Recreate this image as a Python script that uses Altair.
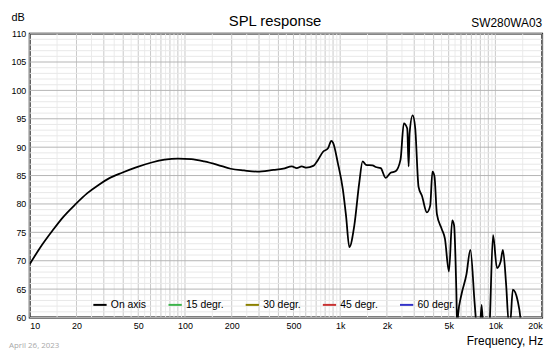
import altair as alt
import pandas as pd

# On-axis SPL response (Hz, dB)
freq = [10, 11.6, 14.1, 16.3, 19.8, 23.5, 27.9, 32.4, 39.3, 47.9, 61, 74, 90, 110, 133, 162,
        197, 240, 292, 372, 430, 488, 525, 565, 607, 670, 721, 776, 835, 877, 899, 966,
        1040, 1091, 1146, 1233, 1327, 1395, 1465, 1616, 1695, 1825, 1963, 2113, 2274,
        2448, 2571, 2704, 2762, 2800, 2931, 3043, 3199, 3366, 3620, 3802, 3930, 4050,
        4200, 4510, 4730, 5020, 5270, 5420, 5600, 5680, 5750, 6040, 6500, 6900, 7360,
        7600, 7900, 8150, 8400, 9000, 9160, 9660, 10240, 10800, 11180, 11730, 12200,
        12450, 12950, 13930, 14490, 14800]
spl = [69.4, 72.2, 75.4, 77.6, 80.0, 81.9, 83.4, 84.5, 85.5, 86.4, 87.3, 87.8, 88.0, 87.9, 87.5, 86.9,
       86.2, 85.9, 85.7, 86.0, 86.2, 86.6, 86.3, 86.6, 86.4, 86.7, 87.8, 89.2, 89.8, 91.1, 90.8, 87.2,
       82.6, 77.9, 72.4, 76.2, 83.7, 87.5, 86.9, 86.8, 86.5, 86.3, 84.6, 85.5, 85.75,
       87.8, 94.2, 93.3, 86.6, 92.4, 95.6, 93.4, 83.0, 81.4, 78.5, 79.7, 85.7, 84.9,
       78.2, 75.6, 73.9, 68.1, 77.1, 76.2, 65.0, 58.0, 60.5, 64.0, 67.5, 71.9, 62.3,
       58.0, 57.0, 62.2, 57.0, 55.0, 58.0, 74.5, 68.7, 69.8, 71.9, 65.8, 59.0,
       59.0, 64.9, 62.9, 60.0, 57.0]

series = ["On axis", "15 degr.", "30 degr.", "45 degr.", "60 degr."]
colors = ["#000000", "#3cb44b", "#8b8000", "#c83232", "#3232c8"]

x_ticks = [10, 20, 50, 100, 200, 500, 1000, 2000, 5000, 10000, 20000]
y_ticks = list(range(60, 111, 5))

grid_major_f = [m * 10 ** k for k in range(1, 5) for m in range(1, 10) if 10 <= m * 10 ** k <= 20000]
grid_minor_f = [(m + 0.5) * 10 ** k for k in range(1, 5) for m in range(1, 10) if (m + 0.5) * 10 ** k <= 20000]
grid_major_db = list(range(60, 111, 5))
grid_minor_db = [v for v in range(60, 111) if v % 5 != 0]

FONT = "Liberation Sans"

df = pd.DataFrame({"f": freq, "db": spl, "s": "On axis"})

xscale = alt.Scale(type="log", domain=[10, 20000], nice=False)
yscale = alt.Scale(domain=[60, 110], nice=False, zero=False)

xaxis = alt.Axis(values=x_ticks, grid=False, ticks=False, domain=False, title=None,
                 labelExpr="datum.value >= 1000 ? (datum.value / 1000) + 'k' : datum.value",
                 labelFontSize=9, labelFont=FONT, labelColor="#000", labelPadding=4,
                 labelOverlap=False)
yaxis = alt.Axis(values=y_ticks, grid=False, ticks=False, domain=False, title=None,
                 labelFontSize=9, labelFont=FONT, labelColor="#000", labelPadding=4)

vminor = alt.Chart(pd.DataFrame({"f": grid_minor_f})).mark_rule(color="#ebebeb", strokeWidth=1).encode(
    x=alt.X("f:Q", scale=xscale, axis=xaxis))
vmajor = alt.Chart(pd.DataFrame({"f": grid_major_f})).mark_rule(color="#c8c8c8", strokeWidth=1).encode(
    x=alt.X("f:Q", scale=xscale, axis=xaxis))
hminor = alt.Chart(pd.DataFrame({"db": grid_minor_db})).mark_rule(color="#e8e8e8", strokeWidth=1).encode(
    y=alt.Y("db:Q", scale=yscale, axis=yaxis))
hmajor = alt.Chart(pd.DataFrame({"db": grid_major_db})).mark_rule(color="#b4b4b4", strokeWidth=1).encode(
    y=alt.Y("db:Q", scale=yscale, axis=yaxis))

line = alt.Chart(df).mark_line(clip=True, strokeWidth=1.8, interpolate="monotone").encode(
    x=alt.X("f:Q", scale=xscale, axis=xaxis),
    y=alt.Y("db:Q", scale=yscale, axis=yaxis),
    color=alt.Color("s:N", scale=alt.Scale(domain=series, range=colors),
                    legend=alt.Legend(title=None, orient="none", legendX=63, legendY=266,
                                      direction="horizontal", symbolType="stroke",
                                      symbolStrokeWidth=2, symbolSize=180, labelFontSize=10.5,
                                      labelFont=FONT, labelColor="#000", columnPadding=18,
                                      labelOffset=3)),
    order=alt.Order("f:Q"),
)

one = pd.DataFrame({"k": [0]})


def label(text, x, y, size, align, color="#000", font=FONT):
    return alt.Chart(one).mark_text(text=text, fontSize=size, font=font, align=align,
                                    baseline="alphabetic", color=color).encode(
        x=alt.value(x), y=alt.value(y))


texts = [
    label("SPL response", 248, -7.5, 15, "center"),
    label("SW280WA03", 518, -6.5, 12, "right"),
    label("dB", -5, -12.5, 11, "right"),
    label("Frequency, Hz", 519, 314.5, 12, "right"),
    label("April 26, 2023", -21, 318, 8, "left", color="#a8a8a8", font="Open Sans"),
]

chart = alt.layer(vminor, vmajor, hminor, hmajor, line, *texts).properties(
    width=518, height=287,
    autosize=alt.AutoSizeParams(type="none"),
    padding={"left": 22, "top": 24, "right": 10, "bottom": 35},
).configure_view(stroke="#000", strokeWidth=2)

chart.save("out.html", embed_options={"renderer": "svg", "actions": False})
